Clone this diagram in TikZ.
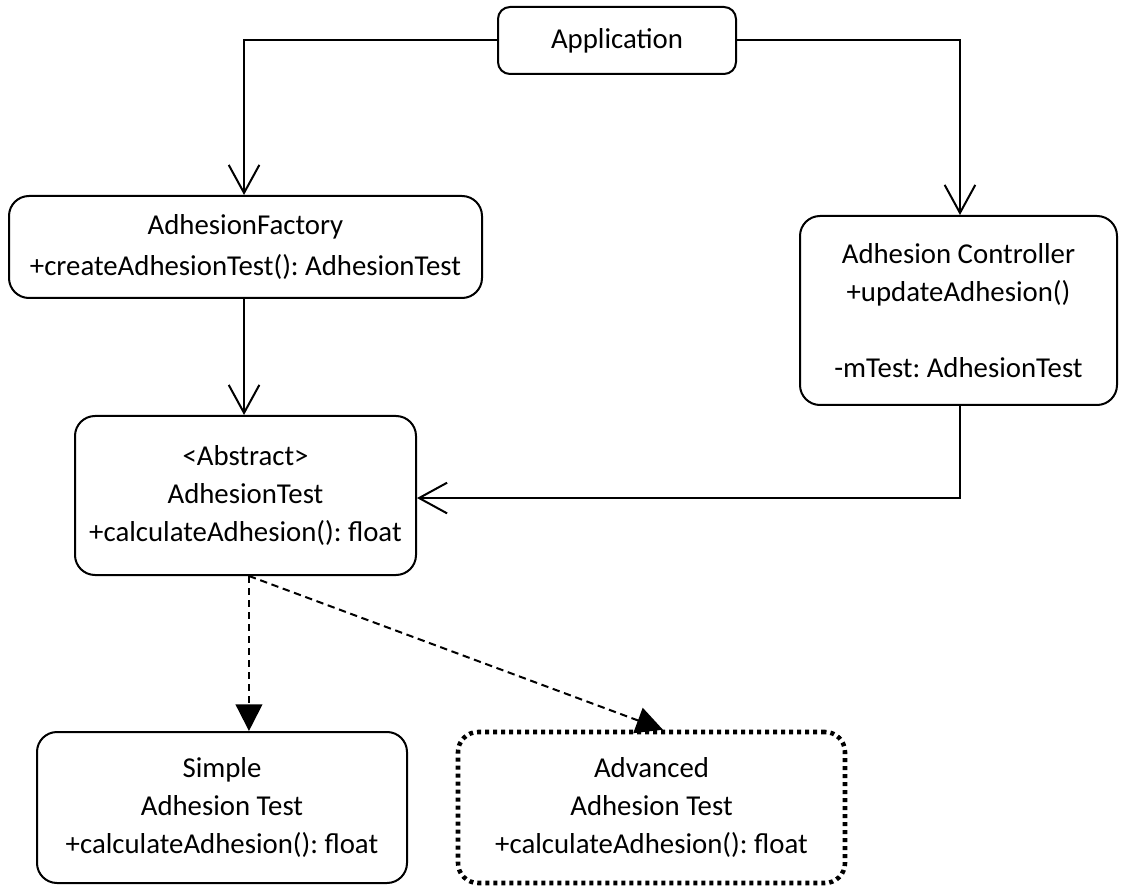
\documentclass[tikz,border=0pt]{standalone}
\usepackage{fontspec}
\setmainfont{Carlito}
\usetikzlibrary{arrows.meta}
\frenchspacing
\begin{document}
\begin{tikzpicture}[x=0.75pt,y=-0.75pt,
  box/.style={draw=black,line width=1.5pt,rounded corners=15pt,align=center,
    inner sep=0pt,font=\fontsize{21.6}{28.5}\selectfont},
  dotbox/.style={box,line width=3.4pt,dash pattern=on 3pt off 3pt},
  assoc/.style={line width=1.5pt,-{Straight Barb[length=21pt,width=23pt,line width=1.5pt]}},
  dep/.style={line width=1.5pt,dash pattern=on 5.5pt off 3.5pt,-{Triangle[length=20pt,width=20pt]}}]
\useasboundingbox (0,0) rectangle (1124,887);

\node[box,rounded corners=9pt,minimum width=178.5pt,minimum height=50.25pt] (app) at (617,40.5) {Application};
\node[box,minimum width=354.75pt,minimum height=76.5pt] (fac) at (245.5,247)
  {AdhesionFactory\\[2pt]+createAdhesionTest(): AdhesionTest};
\node[box,minimum width=237.75pt,minimum height=141.75pt] (ctl) at (958.5,310.5)
  {Adhesion Controller\\+updateAdhesion()\\[28.5pt]-mTest: AdhesionTest};
\node[box,minimum width=255.75pt,minimum height=119.25pt] (test) at (245.5,495.5)
  {<Abstract>\\AdhesionTest\\+calculateAdhesion(): float};
\node[box,minimum width=277.5pt,minimum height=113.25pt] (simple) at (222,807.5)
  {Simple\\Adhesion Test\\+calculateAdhesion(): float};
\node[dotbox,minimum width=290.25pt,minimum height=113.25pt] (adv) at (651.5,807.5)
  {Advanced\\Adhesion Test\\+calculateAdhesion(): float};

\draw[assoc] (app.west) -| ([xshift=-1.1pt]fac.north);
\draw[assoc] (app.east) -| ([xshift=1.1pt]ctl.north);
\draw[assoc] ([xshift=-1.1pt]fac.south) -- ([xshift=-1.1pt]test.north);
\draw[assoc] ([xshift=1.1pt]ctl.south) |- ([yshift=-1.9pt]test.east);

\coordinate (ds) at ([xshift=2.6pt]test.south);
\draw[dep] (ds) -- (ds |- simple.north);
\draw[dep] (ds) -- ([xshift=8.6pt]adv.north);
\end{tikzpicture}
\end{document}
